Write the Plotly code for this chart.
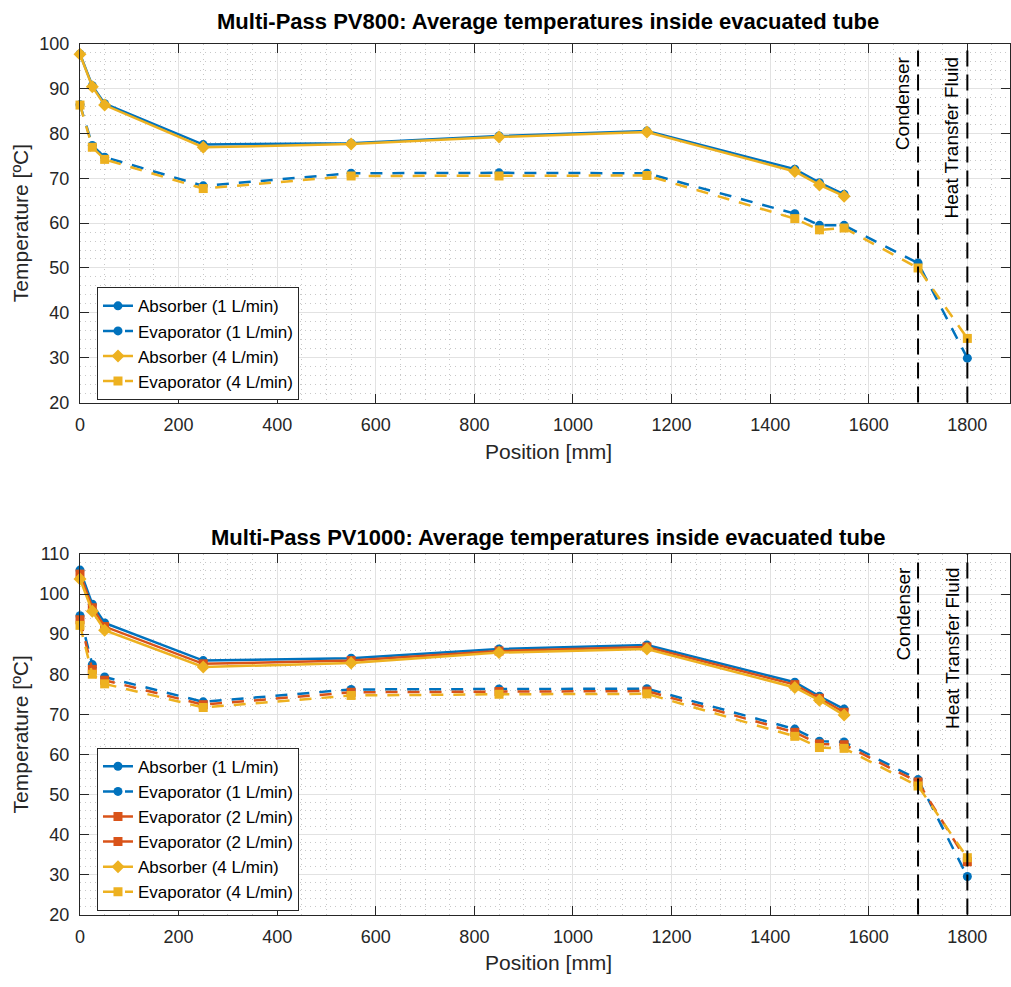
import plotly.graph_objects as go

# ---------------- data ----------------
pos_abs = [0, 25, 50, 250, 550, 850, 1150, 1450, 1500, 1550]
pos_evap = [0, 25, 50, 250, 550, 850, 1150, 1450, 1500, 1550, 1700, 1800]

# PV800
abs1_800 = [97.7, 90.6, 86.6, 77.5, 77.8, 79.4, 80.5, 72.0, 69.0, 66.4]
abs4_800 = [97.6, 90.4, 86.3, 76.9, 77.6, 79.2, 80.3, 71.5, 68.5, 66.0]
evap1_800 = [86.4, 77.3, 74.7, 68.3, 71.1, 71.2, 71.1, 62.1, 59.5, 59.5, 51.1, 29.9]
evap4_800 = [86.3, 76.9, 74.2, 67.7, 70.5, 70.5, 70.6, 61.0, 58.5, 58.9, 50.0, 34.3]

# PV1000
abs1_1000 = [106.0, 97.5, 92.8, 83.4, 84.0, 86.3, 87.3, 78.0, 74.5, 71.3]
abs2_1000 = [105.0, 96.6, 91.9, 82.6, 83.4, 85.8, 86.8, 77.4, 74.0, 70.5]
abs4_1000 = [103.8, 95.7, 91.0, 81.8, 82.8, 85.4, 86.3, 76.7, 73.5, 69.8]
evap1_1000 = [94.6, 82.4, 79.3, 73.1, 76.2, 76.3, 76.4, 66.3, 63.3, 63.1, 53.7, 29.5]
evap2_1000 = [93.6, 81.2, 78.5, 72.4, 75.5, 75.7, 75.8, 65.5, 62.6, 62.4, 53.1, 33.2]
evap4_1000 = [92.2, 80.0, 77.6, 71.7, 74.7, 75.0, 75.1, 64.5, 61.7, 61.5, 52.1, 34.2]

ref_x = [1700, 1800]
ref_labels = ["Condenser", "Heat Transfer Fluid"]

titles = ["Multi-Pass PV800: Average temperatures inside evacuated tube",
          "Multi-Pass PV1000: Average temperatures inside evacuated tube"]
x_label = "Position [mm]"
y_label = "Temperature [ºC]"

# ---------------- style ----------------
BLUE = "#0072BD"
ORANGE = "#D95319"
YELLOW = "#EDB120"
AX = "#262626"
FONT = "Liberation Sans, Arial, sans-serif"
LW = 2.5
DASH = "12px,10px"

fig = go.Figure()


def add(x, y, name, color, symbol, size, dash, xa, ya, legend, showlegend=True):
    fig.add_trace(go.Scatter(
        x=x, y=y, name=name, mode="lines+markers",
        line=dict(color=color, width=LW, dash=dash),
        marker=dict(color=color, symbol=symbol, size=size, line=dict(width=0)),
        xaxis=xa, yaxis=ya, legend=legend, showlegend=showlegend,
        cliponaxis=False,
    ))


# top plot
add(pos_abs, abs1_800, "Absorber (1 L/min)", BLUE, "circle", 9, "solid", "x", "y", "legend")
add(pos_evap, evap1_800, "Evaporator (1 L/min)", BLUE, "circle", 9, DASH, "x", "y", "legend")
add(pos_abs, abs4_800, "Absorber (4 L/min)", YELLOW, "diamond", 10, "solid", "x", "y", "legend")
add(pos_evap, evap4_800, "Evaporator (4 L/min)", YELLOW, "square", 9, DASH, "x", "y", "legend")

# bottom plot
add(pos_abs, abs1_1000, "Absorber (1 L/min)", BLUE, "circle", 9, "solid", "x2", "y2", "legend2")
add(pos_evap, evap1_1000, "Evaporator (1 L/min)", BLUE, "circle", 9, DASH, "x2", "y2", "legend2")
add(pos_abs, abs2_1000, "Evaporator (2 L/min)", ORANGE, "square", 9, "solid", "x2", "y2", "legend2")
add(pos_evap, evap2_1000, "Evaporator (2 L/min)", ORANGE, "square", 9, DASH, "x2", "y2", "legend2",
    showlegend=False)
# legend entry as shown in the original (solid line)
fig.add_trace(go.Scatter(
    x=[None], y=[None], name="Evaporator (2 L/min)", mode="lines+markers",
    line=dict(color=ORANGE, width=LW), marker=dict(color=ORANGE, symbol="square", size=9),
    xaxis="x2", yaxis="y2", legend="legend2"))
add(pos_abs, abs4_1000, "Absorber (4 L/min)", YELLOW, "diamond", 10, "solid", "x2", "y2", "legend2")
add(pos_evap, evap4_1000, "Evaporator (4 L/min)", YELLOW, "square", 9, DASH, "x2", "y2", "legend2")

W, H = 1011, 987
L = 80
plot_w = W - L
x_scale = (968.3 - 80) / 1800.0
x_max = plot_w / x_scale

dom_top = [1 - 400.7 / H, 1 - 34.3 / H]
dom_bot = [1 - 923.3 / H, 1 - 555.3 / H]

MINOR = dict(showgrid=True, gridcolor="#c8c8c8", griddash="1px,4px", gridwidth=1)


def xaxis(anchor):
    return dict(
        range=[0, x_max], dtick=200, tick0=0, anchor=anchor,
        ticks="inside", ticklen=9, tickcolor=AX, tickwidth=1,
        showline=True, linecolor=AX, linewidth=1, mirror="ticks",
        showgrid=True, gridcolor="#e2e2e2", gridwidth=1, zeroline=False,
        tickfont=dict(size=18, color=AX, family=FONT),
        ticklabelstandoff=6,
        minor=dict(dtick=50, **MINOR),
    )


def yaxis(anchor, rng, dom):
    return dict(
        range=rng, dtick=10, tick0=0, anchor=anchor, domain=dom,
        ticks="inside", ticklen=9, tickcolor=AX, tickwidth=1,
        showline=True, linecolor=AX, linewidth=1, mirror="ticks",
        showgrid=True, gridcolor="#e2e2e2", gridwidth=1, zeroline=False,
        tickfont=dict(size=18, color=AX, family=FONT),
        ticklabelstandoff=6,
        minor=dict(dtick=2, **MINOR),
    )


legend_style = dict(
    font=dict(size=17, color="black", family=FONT),
    bgcolor="white", bordercolor=AX, borderwidth=1,
    xanchor="left", yanchor="top", tracegroupgap=0, itemsizing="trace",
)

fig.update_layout(
    width=W, height=H,
    margin=dict(l=L, r=0, t=0, b=0),
    paper_bgcolor="white", plot_bgcolor="white",
    font=dict(family=FONT, color=AX),
    xaxis=xaxis("y"),
    yaxis=yaxis("x", [20, 100], dom_top),
    xaxis2=xaxis("y2"),
    yaxis2=yaxis("x2", [20, 110], dom_bot),
    legend=dict(x=17 / plot_w, y=1 - 283 / H, **legend_style),
    legend2=dict(x=17 / plot_w, y=1 - 753 / H, **legend_style),
)

# reference lines and labels
for xa, ya in [("x", "y"), ("x2", "y2")]:
    for xv, lab in zip(ref_x, ref_labels):
        fig.add_shape(type="line", xref=xa, yref=f"{ya} domain", x0=xv, x1=xv, y0=0, y1=1,
                      line=dict(color="black", width=2, dash="16px,8px"))
        fig.add_annotation(x=xv, xref=xa, y=1, yref=f"{ya} domain", text=lab, showarrow=False,
                           textangle=-90, xanchor="right", yanchor="top", xshift=-3, yshift=-11,
                           font=dict(size=19, color="black", family=FONT))

# titles and axis labels
title_x = (549 - L) / plot_w
for t, yc in zip(titles, [12, 538]):
    fig.add_annotation(x=title_x, xref="paper", y=1 - yc / H, yref="paper", text=f"<b>{t}</b>",
                       showarrow=False, xanchor="center", yanchor="middle",
                       font=dict(size=22, color="black", family=FONT))
for yc in [451, 972]:
    fig.add_annotation(x=(549 - L) / plot_w, xref="paper", y=1 - yc / H, yref="paper", text=x_label,
                       showarrow=False, xanchor="center", yanchor="middle",
                       font=dict(size=21, color=AX, family=FONT))
for yc in [217.5, 739.3]:
    fig.add_annotation(x=(20 - L) / plot_w, xref="paper", y=1 - yc / H, yref="paper", text=y_label,
                       showarrow=False, textangle=-90, xanchor="center", yanchor="middle",
                       font=dict(size=21, color=AX, family=FONT))

fig.write_html("out.html")
